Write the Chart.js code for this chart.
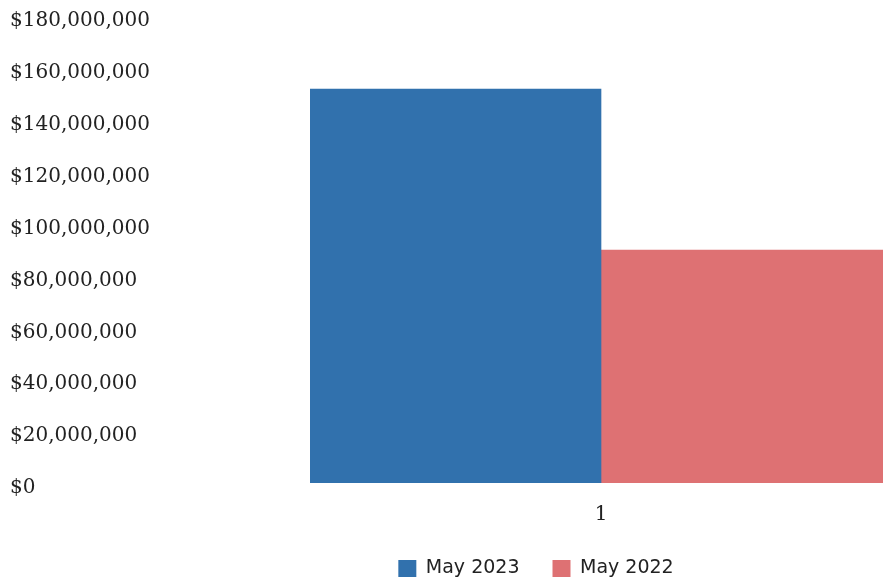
<!DOCTYPE html>
<html>
<head>
<meta charset="utf-8">
<script src="https://cdn.jsdelivr.net/npm/chart.js@4"></script>
<style>
  html, body { margin: 0; padding: 0; background: #ffffff; overflow: hidden; }
  #wrap { position: relative; width: 1062px; height: 582px; }
</style>
</head>
<body>
<div id="wrap"><canvas id="mycanvas"></canvas></div>
<script>
const categories = ['1'];
const seriesNames = ['May 2023', 'May 2022'];
const may2023 = [151800000];
const may2022 = [89800000];
const yTicks = [0, 20000000, 40000000, 60000000, 80000000, 100000000, 120000000, 140000000, 160000000, 180000000];

const money = v => '$' + Number(v).toLocaleString('en-US');

const mycanvas = document.getElementById('mycanvas').getContext('2d');
const chart = new Chart(mycanvas, {
    type: 'bar',
    data: {
        labels: categories,
        datasets: [
            {
                label: seriesNames[0],
                data: may2023,
                backgroundColor: '#3171ad',
                borderWidth: 0,
            },
            {
                label: seriesNames[1],
                data: may2022,
                backgroundColor: '#de7173',
                borderWidth: 0
            }
        ]
    },
    options: {
        responsive: true,
        maintainAspectRatio: false,
        animation: false,
        events: [],
        layout: {
            padding: { left: 10, top: 16, right: 0, bottom: -6 }
        },
        datasets: {
            bar: { barPercentage: 1, categoryPercentage: 1 }
        },
        plugins: {
            legend: {
                position: 'bottom',
                labels: {
                    boxWidth: 18,
                    boxHeight: 17,
                    padding: 33,
                    color: '#222222',
                    font: { family: 'DejaVu Sans', size: 19 }
                }
            },
            tooltip: { enabled: false }
        },
        scales: {
            x: {
                grid: { display: false },
                border: { display: false },
                afterFit: axis => { axis.height -= 13; },
                ticks: {
                    color: '#222222',
                    padding: 12,
                    font: { family: 'DejaVu Serif', size: 20 }
                }
            },
            y: {
                min: 0,
                max: 180000000,
                grid: { display: false },
                border: { display: false },
                afterBuildTicks: axis => { axis.ticks = yTicks.map(v => ({ value: v })); },
                afterFit: axis => { axis.width = 300; },
                ticks: {
                    crossAlign: 'far',
                    labelOffset: 5,
                    color: '#222222',
                    font: { family: 'DejaVu Serif', size: 20 },
                    callback: v => money(v)
                }
            },
            y2: {
                position: 'right',
                grid: { display: false },
                border: { display: false },
                ticks: { display: false },
                afterFit: axis => { axis.width = 170; }
            }
        }
    }
});
</script>
</body>
</html>
